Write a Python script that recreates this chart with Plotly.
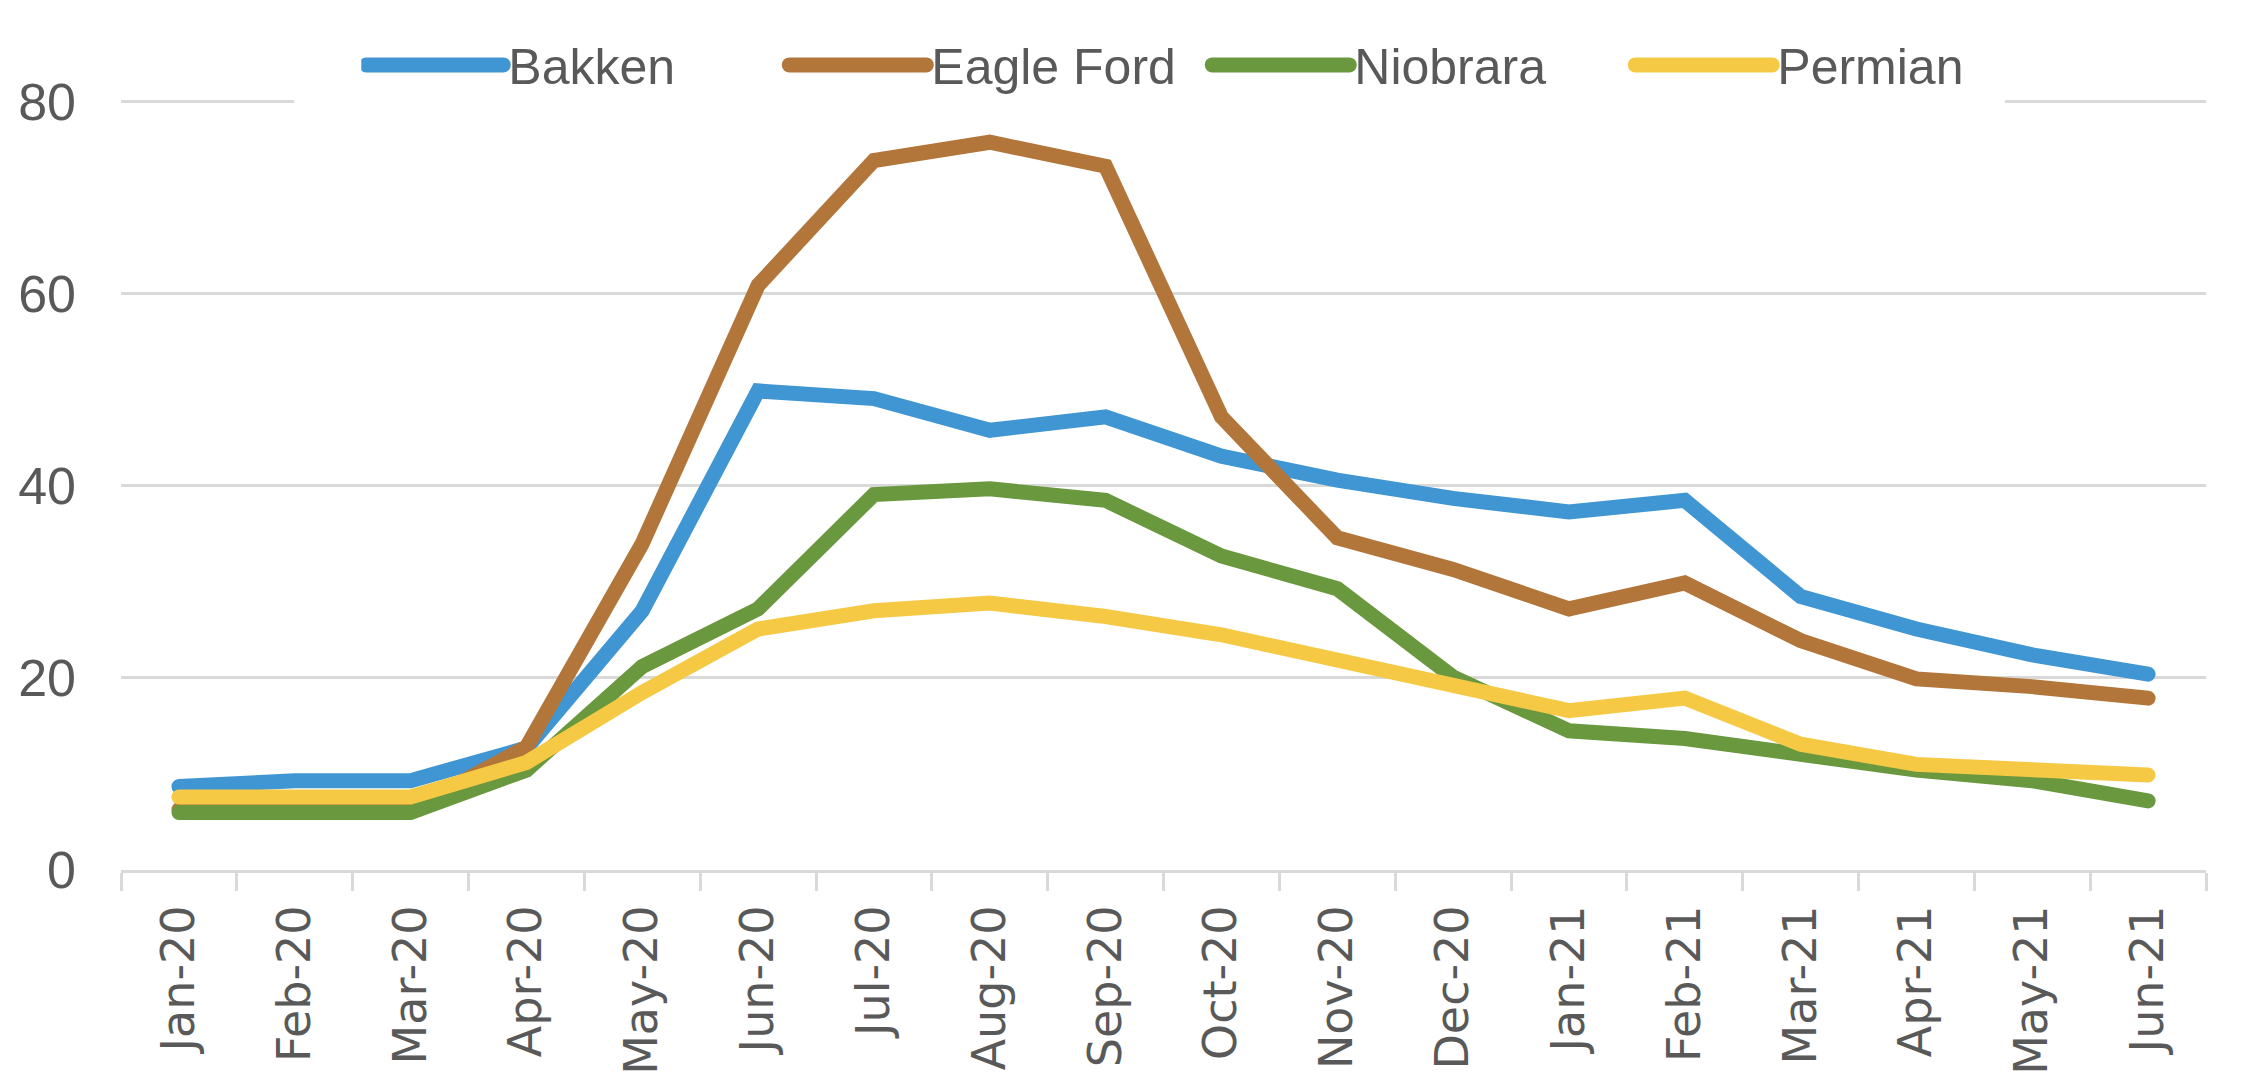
import plotly.graph_objects as go

months = ["Jan-20", "Feb-20", "Mar-20", "Apr-20", "May-20", "Jun-20", "Jul-20", "Aug-20",
          "Sep-20", "Oct-20", "Nov-20", "Dec-20", "Jan-21", "Feb-21", "Mar-21", "Apr-21",
          "May-21", "Jun-21"]

bakken = [8.7, 9.3, 9.3, 12.7, 27.0, 49.9, 49.1, 45.8, 47.2, 43.1, 40.6, 38.7, 37.3, 38.5,
          28.5, 25.1, 22.4, 20.4]
eagle_ford = [6.3, 6.3, 6.3, 12.8, 34.0, 60.9, 73.9, 75.8, 73.3, 47.2, 34.6, 31.3, 27.2, 29.9,
              23.9, 19.9, 19.1, 17.9]
niobrara = [6.0, 6.0, 6.0, 10.4, 21.2, 27.2, 39.1, 39.7, 38.5, 32.7, 29.3, 20.1, 14.5, 13.7,
            11.9, 10.4, 9.3, 7.2]
permian = [7.6, 7.6, 7.6, 11.2, 18.5, 25.1, 27.0, 27.8, 26.4, 24.5, 21.8, 19.0, 16.6, 17.9,
           13.1, 11.0, 10.4, 9.9]

y_ticks = [0, 20, 40, 60, 80]

series = [
    ("Bakken", bakken, "#3F96D2"),
    ("Eagle Ford", eagle_ford, "#B3763A"),
    ("Niobrara", niobrara, "#69983E"),
    ("Permian", permian, "#F6C945"),
]

fig = go.Figure()
for name, vals, color in series:
    fig.add_trace(go.Scatter(x=months, y=vals, name=name, mode="lines",
                             line=dict(color=color, width=15)))

grid = "#D9D9D9"
tick_font = "#595959"

fig.update_layout(
    width=2245, height=1088,
    margin=dict(l=121, r=39, t=100, b=218, autoexpand=False),
    paper_bgcolor="white", plot_bgcolor="white",
    showlegend=True,
    legend=dict(orientation="h", x=0.521, xanchor="center", y=1.0456, yanchor="middle",
                bgcolor="rgba(0,0,0,0)", font=dict(family="Liberation Sans", size=50, color=tick_font),
                itemwidth=137, traceorder="normal", entrywidth=271, entrywidthmode="pixels"),
    xaxis=dict(type="category", range=[-0.5, len(months) - 0.5], showgrid=False, showline=True,
               linecolor=grid, linewidth=3,
               ticks="outside", tickson="boundaries", ticklen=18, tickwidth=3, tickcolor=grid,
               tickangle=-90, tickfont=dict(family="DejaVu Sans", size=46, color=tick_font),
               ticklabelstandoff=14, automargin=False, zeroline=False),
    yaxis=dict(range=[0, 80.2], tickvals=y_ticks, showgrid=True, gridcolor=grid, gridwidth=3,
               zeroline=False, showline=False, ticks="",
               tickfont=dict(family="Liberation Sans", size=52, color=tick_font),
               ticklabelstandoff=44, automargin=False),
    shapes=[dict(type="rect", xref="paper", yref="paper", x0=(294 - 121) / 2085, x1=(2005 - 121) / 2085,
                 y0=1 - 14 / 770, y1=1 + 6 / 770, fillcolor="white", line=dict(width=0), layer="above")],
)

post = """
var gd = document.getElementById('{plot_id}');
function fix(){
  gd.querySelectorAll('.legend .legendlines path').forEach(function(p){
    p.setAttribute('d','M5,0h137'); p.style.strokeWidth='15px'; p.style.strokeLinecap='round';
  });
  gd.querySelectorAll('.scatterlayer .js-line').forEach(function(p){
    p.style.strokeLinecap='round';
  });
}
fix();
gd.on('plotly_afterplot', fix);
"""

fig.write_html("out.html", config={"displayModeBar": False}, post_script=post)
